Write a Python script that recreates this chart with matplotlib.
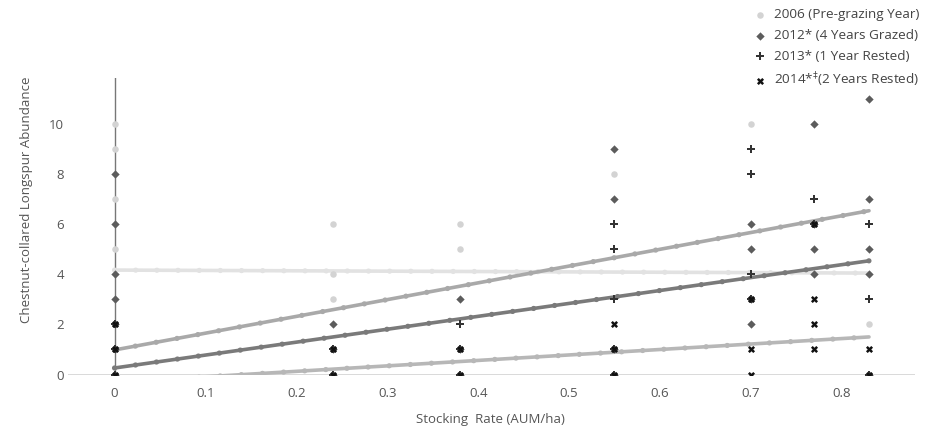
import numpy as np
import matplotlib
matplotlib.use('Agg')
import matplotlib.pyplot as plt

plt.rcParams['font.family'] = ['Open Sans', 'DejaVu Sans']

# 数据：放牧率与长刺歌雀数量
labels = ['2006 (Pre-grazing Year)', '2012* (4 Years Grazed)',
          '2013* (1 Year Rested)', r'2014*$^{\ddag}$(2 Years Rested)']

# 几个系列重叠的点（图中呈黑色圆点）
shared_x = [0, 0, 0, 0.24, 0.24, 0.38, 0.38, 0.55, 0.55, 0.70, 0.77, 0.83]
shared_y = [2, 1, 0, 1, 0, 1, 0, 1, 0, 3, 6, 0]

x2006 = [0, 0, 0, 0, 0.24, 0.24, 0.24, 0.38, 0.38, 0.55, 0.70, 0.83]
y2006 = [10, 9, 7, 5, 6, 4, 3, 6, 5, 8, 10, 2]
x2012 = [0, 0, 0, 0, 0.24, 0.38, 0.55, 0.55, 0.70, 0.70, 0.70, 0.77, 0.77, 0.77,
         0.83, 0.83, 0.83, 0.83]
y2012 = [8, 6, 4, 3, 2, 3, 9, 7, 6, 5, 2, 10, 5, 4, 11, 7, 5, 4]
x2013 = [0.38, 0.55, 0.55, 0.55, 0.70, 0.70, 0.70, 0.77, 0.83, 0.83]
y2013 = [2, 6, 5, 3, 9, 8, 4, 7, 6, 3]
x2014 = [0.55, 0.70, 0.70, 0.77, 0.77, 0.77, 0.83]
y2014 = [2, 1, 0, 3, 2, 1, 1]

# 趋势线端点
trend_x = [0, 0.83]
trend_2006 = [4.17, 4.05]
trend_2012 = [0.98, 6.54]
trend_2013 = [0.26, 4.54]
trend_2014 = [-0.31, 1.50]

xticks = [0, 0.1, 0.2, 0.3, 0.4, 0.5, 0.6, 0.7, 0.8]
yticks = [0, 2, 4, 6, 8, 10]

W, H = 942, 433
fig = plt.figure(figsize=(W / 100, H / 100), dpi=100)
ax = fig.add_axes([68 / W, 1 - 374.5 / H, (915 - 68) / W, (374.5 - 78) / H])

txt = '#555555'

# 趋势线（带圆点）
for ty, c in [(trend_2006, '#e2e2e2'), (trend_2012, '#a9a9a9'),
              (trend_2013, '#7a7a7a'), (trend_2014, '#b7b7b7')]:
    ax.plot(trend_x, ty, color=c, lw=2.6, solid_capstyle='round', zorder=2)
    ax.plot(trend_x, ty, color=c, lw=3.8, linestyle=(0, (0.01, 4.0)),
            dash_capstyle='round', zorder=2)

styles = [
    (x2006, y2006, dict(marker='o', s=22, color='#d3d3d3', linewidths=0)),
    (x2012, y2012, dict(marker='D', s=18, color='#5c5c5c', linewidths=0)),
    (x2013, y2013, dict(marker='P', s=30, color='#333333', linewidths=0)),
    (x2014, y2014, dict(marker='X', s=26, color='#111111', linewidths=0)),
]
for i, (xs, ys, kw) in enumerate(styles):
    ax.scatter(list(xs) + shared_x, list(ys) + shared_y, label=labels[i],
               zorder=3 + i, **kw)

ax.set_xlim(-0.0512, 0.8806)
ax.set_ylim(0, 11.84)
for s in ax.spines.values():
    s.set_visible(False)
ax.axhline(0, color='#444444', lw=1, zorder=1)
ax.axvline(0, color='#777777', lw=1, zorder=1)

ax.set_xticks(xticks)
ax.set_xticklabels(['0'] + ['%.1f' % v for v in xticks[1:]])
ax.set_yticks(yticks)
ax.tick_params(length=0, labelsize=9.5, colors=txt)
ax.tick_params(axis='x', pad=9)
ax.tick_params(axis='y', pad=3)

fig.text(27 / W, 1 - 200 / H, 'Chestnut-collared Longspur Abundance',
         rotation=90, ha='center', va='center', fontsize=9.5, color=txt)
fig.text(490 / W, 1 - 419 / H, 'Stocking  Rate (AUM/ha)',
         ha='center', va='center', fontsize=9.5, color=txt)

leg = fig.legend(loc='upper left', bbox_to_anchor=(748 / W, 1 - 3 / H),
                 frameon=False, fontsize=9.7, handlelength=1.0,
                 handletextpad=0.5, labelspacing=0.58, borderaxespad=0)
for t in leg.get_texts():
    t.set_color('#444444')

fig.savefig('out.png', dpi=100)
